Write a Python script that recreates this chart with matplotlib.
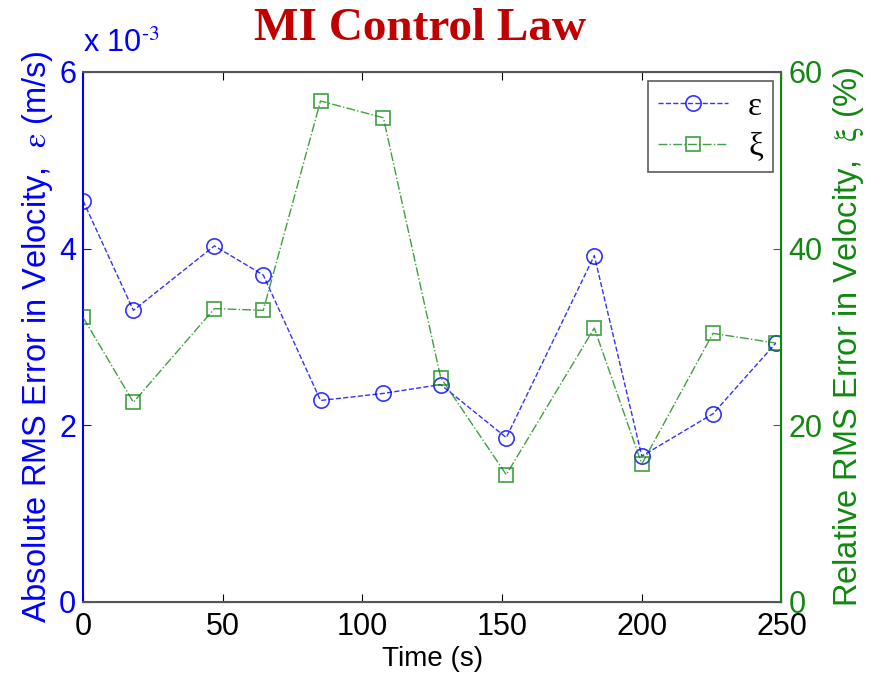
import matplotlib.pyplot as plt

plt.rcParams['font.family'] = ['Liberation Sans', 'DejaVu Sans']
plt.rcParams['mathtext.fontset'] = 'stix'

# data
time_s = [0, 18, 47, 64.5, 85, 107.5, 128, 151.5, 183, 200, 225.5, 248]
eps_e3 = [4.54, 3.30, 4.03, 3.70, 2.28, 2.36, 2.46, 1.86, 3.92, 1.65, 2.13, 2.93]   # x 10^-3 m/s
xi_pct = [32.2, 22.6, 33.2, 33.0, 56.7, 54.8, 25.4, 14.4, 31.0, 15.6, 30.4, 29.3]

BLUE = '#0000ff'
GREEN = '#118811'

fig = plt.figure(figsize=(8.84, 6.84), dpi=100)
ax = fig.add_axes([0.094, 0.12, 0.790, 0.775])
ax2 = ax.twinx()

l1, = ax.plot(time_s, eps_e3, '--', color=BLUE, lw=1, alpha=0.8,
              marker='o', ms=11, mfc='none', mec=BLUE, mew=1.2, label='ε')
l2, = ax2.plot(time_s, xi_pct, '-.', color=GREEN, lw=1, alpha=0.8,
               marker='s', ms=10, mfc='none', mec=GREEN, mew=1.2, label='ξ')

ax.set_xlim(0, 250)
ax.set_ylim(0, 6)
ax2.set_ylim(0, 60)
ax.set_xticks([0, 50, 100, 150, 200, 250])
ax.set_yticks([0, 2, 4, 6])
ax2.set_yticks([0, 20, 40, 60])

fs = 22
lfs = 23.5
ax.tick_params(axis='x', direction='in', labelsize=fs, top=True, length=6, pad=7)
ax.tick_params(axis='y', direction='in', labelsize=fs, colors=BLUE, length=6, pad=5)
ax2.tick_params(axis='y', direction='in', labelsize=fs, colors=GREEN, length=6, pad=5)

ax.spines['left'].set_color(BLUE)
ax.spines['left'].set_linewidth(1.5)
ax2.spines['left'].set_visible(False)
ax2.spines['right'].set_color(GREEN)
ax2.spines['right'].set_linewidth(1.5)
for s in ['top', 'bottom']:
    ax.spines[s].set_color('#555555')
    ax2.spines[s].set_color('#555555')
    ax2.spines[s].set_linewidth(1.5)

ax.set_xlabel('Time (s)', fontsize=20, labelpad=3)
ax.set_ylabel(r'Absolute RMS Error in Velocity,  $\mathrm{\varepsilon}$ (m/s)', fontsize=lfs,
              color=BLUE, labelpad=3)
ax2.set_ylabel(r'Relative RMS Error in Velocity,  $\mathrm{\xi}$ (%)', fontsize=lfs,
               color=GREEN, labelpad=6)

ax.text(0.0, 1.025, r'x 10$^{\text{-3}}$', transform=ax.transAxes, fontsize=fs, color=BLUE,
        ha='left', va='bottom')

fig.text(0.475, 0.957, 'MI Control Law', fontsize=34, color='#c00000', fontweight='bold',
         family='Liberation Serif', ha='center', va='center')

leg = ax2.legend(handles=[l1, l2], loc='upper right', prop={'family': 'Liberation Serif', 'size': 24},
                 frameon=True, fancybox=False,
                 edgecolor='#333333', handlelength=2.1, handletextpad=0.6, borderpad=0.3,
                 labelspacing=0.3, borderaxespad=0, bbox_to_anchor=(0.988, 0.982))
leg.get_frame().set_linewidth(1.2)

fig.savefig('out.png', dpi=100)
